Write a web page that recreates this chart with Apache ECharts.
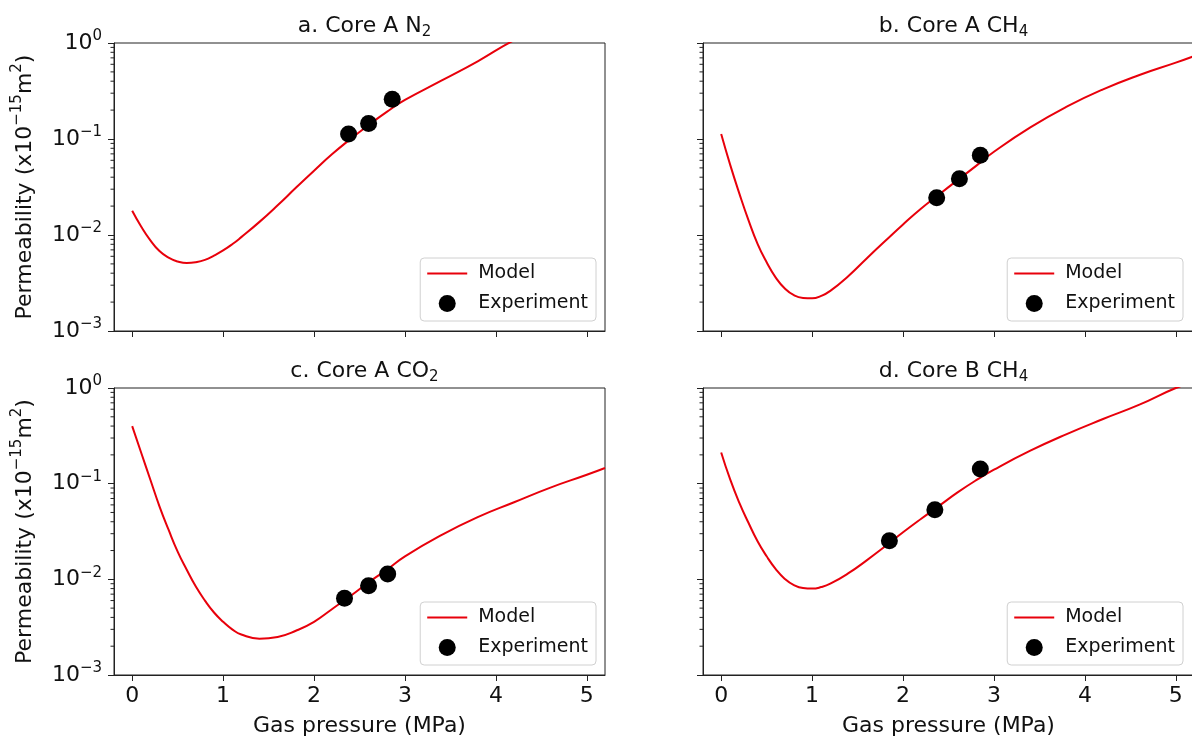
<!DOCTYPE html>
<html>
<head>
<meta charset="utf-8">
<title>Permeability vs gas pressure</title>
<script src="https://cdn.jsdelivr.net/npm/echarts@6/dist/echarts.min.js"></script>
<style>
  html, body { margin: 0; padding: 0; background: #fff; }
  #chart { width: 1192px; height: 742px; }
</style>
</head>
<body>
<div id="chart"></div>
<script>
// gas pressure (MPa) where the model curves were read
const pressure = [0, 0.1, 0.2, 0.3, 0.4, 0.5, 0.6, 0.7, 0.8, 0.9, 1.0, 1.1, 1.2, 1.4, 1.6, 1.8,
  2.0, 2.2, 2.4, 2.6, 2.8, 3.0, 3.4, 3.8, 4.2, 4.6, 5.0, 5.2];

// model permeability (x10^-15 m2)
const modelA_N2 = [0.0179, 0.0122, 0.0088, 0.0068, 0.0058, 0.0053, 0.0051, 0.0052, 0.0055, 0.0061,
  0.0069, 0.0080, 0.0095, 0.0137, 0.0204, 0.031, 0.0467, 0.0696, 0.0998, 0.1396, 0.192, 0.255,
  0.405, 0.645, 1.07, 1.6, 2.3, 2.7];
const modelA_CH4 = [0.1125, 0.0534, 0.027, 0.0143, 0.0081, 0.0052, 0.0036, 0.00277, 0.00236, 0.00221,
  0.00219, 0.00232, 0.00262, 0.00375, 0.0057, 0.0086, 0.0129, 0.0189, 0.0266, 0.0373, 0.0522, 0.0736,
  0.132, 0.217, 0.329, 0.464, 0.624, 0.73];
const modelA_CO2 = [0.40, 0.209, 0.11, 0.058, 0.033, 0.0195, 0.0126, 0.0084, 0.006, 0.0045,
  0.0036, 0.0030, 0.00265, 0.0024, 0.0025, 0.0029, 0.0036, 0.0049, 0.0067, 0.0093, 0.0126, 0.0174,
  0.029, 0.0447, 0.064, 0.091, 0.124, 0.146];
const modelB_CH4 = [0.212, 0.11, 0.063, 0.039, 0.025, 0.0174, 0.0128, 0.0101, 0.0087, 0.0081,
  0.0080, 0.0083, 0.0090, 0.0116, 0.0158, 0.022, 0.031, 0.043, 0.059, 0.081, 0.108, 0.14,
  0.221, 0.33, 0.474, 0.67, 1.0, 1.15];

// experiment points
const expA_N2_p = [2.38, 2.60, 2.86];
const expA_N2_k = [0.1125, 0.145, 0.259];
const expA_CH4_p = [2.37, 2.62, 2.85];
const expA_CH4_k = [0.0244, 0.0385, 0.0679];
const expA_CO2_p = [2.335, 2.60, 2.81];
const expA_CO2_k = [0.00635, 0.00855, 0.0114];
const expB_CH4_p = [1.85, 2.35, 2.85];
const expB_CH4_k = [0.0253, 0.0533, 0.142];

const xTicks = [0, 1, 2, 3, 4, 5];
const minorTickValues = [0.002, 0.003, 0.004, 0.005, 0.006, 0.007, 0.008, 0.009,
  0.02, 0.03, 0.04, 0.05, 0.06, 0.07, 0.08, 0.09,
  0.2, 0.3, 0.4, 0.5, 0.6, 0.7, 0.8, 0.9];

const titles = [
  'a. Core A N{sub|2}', 'b. Core A CH{sub|4}',
  'c. Core A CO{sub|2}', 'd. Core B CH{sub|4}'
];
const models = [modelA_N2, modelA_CH4, modelA_CO2, modelB_CH4];
const expP = [expA_N2_p, expA_CH4_p, expA_CO2_p, expB_CH4_p];
const expK = [expA_N2_k, expA_CH4_k, expA_CO2_k, expB_CH4_k];

const X_MIN = -0.2, X_MAX = 5.2;
const INK = '#111';
const RED = '#e8000b';
const FONT = 'DejaVu Sans';

// panel boxes: [left, top, width, height]
const boxes = [
  [114, 43, 491, 288],
  [703, 43, 491, 288],
  [114, 388, 491, 287],
  [703, 388, 491, 287]
];

const grids = [], xAxes = [], yAxes = [], series = [], legends = [], titleList = [];

boxes.forEach(function (b, i) {
  const isLeft = i % 2 === 0;
  const isBottom = i >= 2;
  grids.push({
    left: b[0], top: b[1], width: b[2], height: b[3],
    show: true, borderColor: '#222', borderWidth: 1, backgroundColor: 'transparent',
    containLabel: false, outerBoundsMode: 'none'
  });
  xAxes.push({
    type: 'value', gridIndex: i, min: X_MIN, max: X_MAX,
    name: isBottom ? 'Gas pressure (MPa)' : '',
    nameLocation: 'middle', nameGap: 40,
    nameTextStyle: { fontSize: 22, color: INK, fontFamily: FONT },
    axisLine: { show: true, onZero: false, lineStyle: { color: '#222', width: 1 } },
    axisTick: { show: true, inside: false, length: 6, customValues: xTicks, lineStyle: { color: '#222' } },
    axisLabel: { show: isBottom, customValues: xTicks, fontSize: 22, color: INK, margin: 10, fontFamily: FONT },
    splitLine: { show: false }
  });
  yAxes.push({
    type: 'log', logBase: 10, gridIndex: i, min: 0.001, max: 1,
    name: isLeft ? 'Permeability (x10{sup|−15}m{sup|2})' : '',
    nameLocation: 'middle', nameGap: 74, nameRotate: 90,
    nameTextStyle: {
      fontSize: 22, color: INK, fontFamily: FONT, lineHeight: 30,
      rich: { sup: { fontSize: 15, verticalAlign: 'top', lineHeight: 15, color: INK, fontFamily: FONT } }
    },
    axisLine: { show: true, onZero: false, lineStyle: { color: '#222', width: 1 } },
    axisTick: { show: true, inside: false, length: 6, lineStyle: { color: '#222' } },
    axisLabel: {
      show: isLeft, fontSize: 22, color: INK, margin: 12, fontFamily: FONT, lineHeight: 28,
      formatter: function (v) {
        const e = Math.round(Math.log10(v));
        return '10{sup|' + (e < 0 ? '−' + (-e) : e) + '}';
      },
      rich: { sup: { fontSize: 15, verticalAlign: 'top', lineHeight: 15, color: INK, fontFamily: FONT } }
    },
    splitLine: { show: false }
  });

  titleList.push({
    text: titles[i],
    left: b[0] + b[2] / 2, top: b[1] - 36, textAlign: 'center',
    textStyle: {
      fontSize: 22, fontWeight: 'normal', color: INK, fontFamily: FONT, lineHeight: 28,
      rich: { sub: { fontSize: 15, verticalAlign: 'bottom', lineHeight: 15, color: INK, fontFamily: FONT } }
    }
  });

  legends.push({
    data: [
      { name: 'Model', icon: 'path://M0 0H40V2H0Z', itemStyle: { color: RED, borderWidth: 0 } },
      { name: 'Experiment', icon: 'circle', itemStyle: { color: '#000', opacity: 1 } }
    ],
    orient: 'vertical',
    right: 1192 - (b[0] + Math.min(b[2], 1192 - b[0]) - 9),
    top: b[1] + b[3] - 73,
    itemWidth: 40, itemHeight: 17, itemGap: 11,
    symbolKeepAspect: true,
    padding: [6, 8, 8, 7],
    borderColor: '#d0d0d0', borderWidth: 1, borderRadius: 4,
    backgroundColor: 'rgba(255,255,255,0.8)',
    textStyle: { fontSize: 19, color: INK, fontFamily: FONT, padding: [0, 0, 0, 6] },
    selectedMode: false
  });

  series.push({
    name: 'Model', type: 'line', xAxisIndex: i, yAxisIndex: i,
    data: pressure.map(function (p, j) { return [p, models[i][j]]; }),
    symbol: 'none', smooth: 0.5, clip: true,
    lineStyle: { color: RED, width: 2 }, itemStyle: { color: RED },
    z: 2
  });
  series.push({
    name: 'Experiment', type: 'scatter', xAxisIndex: i, yAxisIndex: i,
    data: expP[i].map(function (p, j) { return [p, expK[i][j]]; }),
    symbol: 'circle', symbolSize: 17,
    itemStyle: { color: '#000', opacity: 1 },
    z: 3
  });
  // log-axis minor ticks
  series.push({
    type: 'custom', xAxisIndex: i, yAxisIndex: i, silent: true,
    data: minorTickValues.map(function (v) { return [X_MIN, v]; }),
    encode: { x: 0, y: 1 },
    renderItem: function (params, api) {
      const pt = api.coord([api.value(0), api.value(1)]);
      return {
        type: 'line',
        shape: { x1: pt[0] - 3.5, y1: pt[1], x2: pt[0], y2: pt[1] },
        style: { stroke: '#222', lineWidth: 1 }
      };
    },
    z: 4
  });
});

const chart = echarts.init(document.getElementById('chart'), null, { renderer: 'canvas' });
chart.setOption({
  animation: false,
  backgroundColor: '#fff',
  textStyle: { fontFamily: FONT },
  title: titleList,
  legend: legends,
  grid: grids,
  xAxis: xAxes,
  yAxis: yAxes,
  series: series
});
</script>
</body>
</html>
